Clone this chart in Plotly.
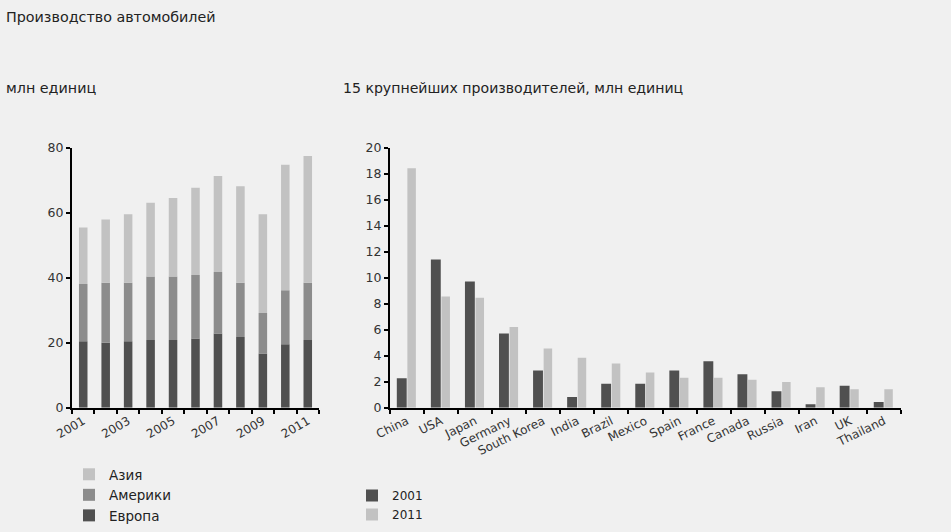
import plotly.graph_objects as go
import numpy as np

# Left panel: world car production by region, mln units
years = ["2001", "2002", "2003", "2004", "2005", "2006",
         "2007", "2008", "2009", "2010", "2011"]
year_labels = ["2001", "", "2003", "", "2005", "", "2007", "", "2009", "", "2011"]
europe = [20.4, 20.0, 20.4, 20.8, 20.8, 21.3, 22.8, 21.7, 16.7, 19.5, 20.8]
americas = [17.6, 18.4, 18.0, 19.5, 19.5, 19.5, 18.9, 16.7, 12.4, 16.6, 17.6]
asia = [17.4, 19.5, 21.1, 22.7, 24.2, 26.8, 29.5, 29.7, 30.4, 38.6, 39.0]

# Right panel: 15 largest producers, mln units
countries = ["China", "USA", "Japan", "Germany", "South Korea", "India", "Brazil",
             "Mexico", "Spain", "France", "Canada", "Russia", "Iran", "UK", "Thailand"]
prod_2001 = [2.26, 11.4, 9.7, 5.7, 2.85, 0.82, 1.85, 1.85, 2.85, 3.57, 2.57, 1.26, 0.26, 1.69, 0.44]
prod_2011 = [18.4, 8.55, 8.45, 6.2, 4.55, 3.83, 3.4, 2.7, 2.3, 2.3, 2.15, 1.98, 1.57, 1.41, 1.41]

DARK = "#505050"
MID = "#8c8c8c"
LIGHT = "#c2c2c2"
BG = "#f0f0f0"
TXT = "#222222"
FONT = "DejaVu Sans, Verdana, sans-serif"

W, H = 951, 532

def px_x(x):
    return x / W

def px_y(y):
    return 1 - y / H

fig = go.Figure()

# stacked regional bars (bases computed from the series)
base_am = list(europe)
base_as = list(np.add(europe, americas))
for name, vals, base, col in [("Европа", europe, None, DARK),
                              ("Америки", americas, base_am, MID),
                              ("Азия", asia, base_as, LIGHT)]:
    fig.add_trace(go.Bar(x=years, y=vals, base=base, name=name, marker_color=col,
                         marker_line_width=0, width=0.38, xaxis="x", yaxis="y",
                         legend="legend"))

# grouped country bars
fig.add_trace(go.Bar(x=countries, y=prod_2001, name="2001", marker_color=DARK,
                     marker_line_width=0, width=0.29, offset=-0.30,
                     xaxis="x2", yaxis="y2", legend="legend2"))
fig.add_trace(go.Bar(x=countries, y=prod_2011, name="2011", marker_color=LIGHT,
                     marker_line_width=0, width=0.25, offset=0.01,
                     xaxis="x2", yaxis="y2", legend="legend2"))

ydom = [px_y(407.7), px_y(147.5)]
axis_common = dict(showline=True, linecolor="black", linewidth=2,
                   ticks="outside", ticklen=4, tickwidth=1.5, tickcolor="black",
                   showgrid=False, zeroline=False)
yfont = dict(family=FONT, size=12.5, color="#333333")
xfont = dict(family=FONT, size=12, color="#333333")

fig.update_layout(
    width=W, height=H,
    margin=dict(l=0, r=0, t=0, b=0, autoexpand=False),
    paper_bgcolor=BG, plot_bgcolor=BG,
    barmode="overlay",
    font=dict(family=FONT, size=12, color=TXT),
    xaxis=dict(domain=[px_x(72), px_x(319)], anchor="y", type="category",
               tickmode="array", tickvals=years, ticktext=year_labels,
               tickson="boundaries", tickangle=-30, range=[-0.5, 10.5],
               tickfont=xfont, **axis_common),
    yaxis=dict(domain=ydom, anchor="x", range=[0, 80], dtick=20,
               tickfont=yfont, **axis_common),
    xaxis2=dict(domain=[px_x(390), px_x(901)], anchor="y2", type="category",
                tickson="boundaries", tickangle=-26, range=[-0.5, 14.5],
                tickfont=xfont, **axis_common),
    yaxis2=dict(domain=ydom, anchor="x2", range=[0, 20], dtick=2,
                tickfont=yfont, **axis_common),
    legend=dict(x=px_x(69), y=px_y(459), xanchor="left", yanchor="top",
                traceorder="reversed", bgcolor="rgba(0,0,0,0)",
                font=dict(family=FONT, size=13.5, color=TXT)),
    legend2=dict(x=px_x(352), y=px_y(481), xanchor="left", yanchor="top",
                 traceorder="normal", bgcolor="rgba(0,0,0,0)",
                 font=dict(family=FONT, size=12, color=TXT)),
    annotations=[
        dict(text="Производство автомобилей", x=px_x(4), y=px_y(17),
             xref="paper", yref="paper", xanchor="left", yanchor="middle",
             showarrow=False, font=dict(family=FONT, size=14.3, color=TXT)),
        dict(text="млн единиц", x=px_x(4), y=px_y(88),
             xref="paper", yref="paper", xanchor="left", yanchor="middle",
             showarrow=False, font=dict(family=FONT, size=14.3, color=TXT)),
        dict(text="15 крупнейших производителей, млн единиц", x=px_x(341), y=px_y(88),
             xref="paper", yref="paper", xanchor="left", yanchor="middle",
             showarrow=False, font=dict(family=FONT, size=14.1, color=TXT)),
    ],
)

fig.write_html("out.html")
